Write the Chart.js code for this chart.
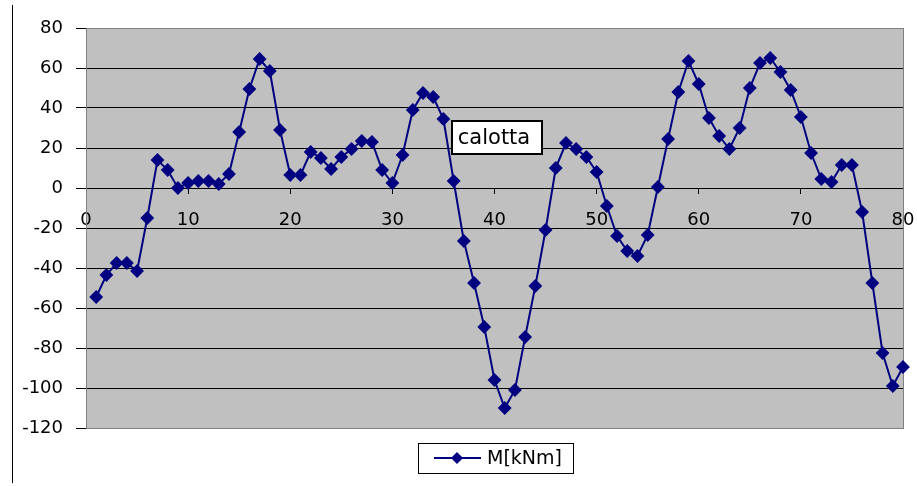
<!DOCTYPE html>
<html>
<head>
<meta charset="utf-8">
<script src="https://cdn.jsdelivr.net/npm/chart.js@4.4.0/dist/chart.umd.min.js"></script>
<style>
  html, body { margin: 0; padding: 0; background: #ffffff; }
  #wrap { position: relative; width: 917px; height: 486px; }
</style>
</head>
<body>
<div id="wrap"><canvas id="c" width="917" height="486"></canvas></div>
<script>
// ---- data ----
const seriesName = "M[kNm]";
const annotationText = "calotta";
const xValues = [1,2,3,4,5,6,7,8,9,10,11,12,13,14,15,16,17,18,19,20,
                 21,22,23,24,25,26,27,28,29,30,31,32,33,34,35,36,37,38,39,40,
                 41,42,43,44,45,46,47,48,49,50,51,52,53,54,55,56,57,58,59,60,
                 61,62,63,64,65,66,67,68,69,70,71,72,73,74,75,76,77,78,79,80];
const mValues = [-54.5,-43.5,-37.5,-37.5,-41.5,-15,14,9,0,2.5,
                 3.5,3.5,2,7,28,49.5,64.5,58.5,29,6.5,
                 6.5,18,15,9.5,15.5,19.5,23.5,23,9,2.5,
                 16.5,39,47.5,45.5,34.5,3.5,-26.5,-47.5,-69.5,-96,
                 -110,-101,-74.5,-49,-21,10,22.5,19.5,15.5,8,
                 -9,-24,-31.5,-34,-23.5,0.5,24.5,48,63.5,52,
                 35,26,19.5,30,50,62.5,65,58,49,35.5,
                 17.5,4.5,3,11.5,11.5,-12,-47.5,-82.5,-99,-89.5];
const xTicks = [0,10,20,30,40,50,60,70,80];
const yTicks = [80,60,40,20,0,-20,-40,-60,-80,-100,-120];

const NAVY = '#000080';
const FONT = '"DejaVu Sans", sans-serif';

const points = xValues.map((x, i) => ({ x: x, y: mValues[i] }));

const decorPlugin = {
  id: 'decor',
  beforeDraw(chart) {
    const { ctx, chartArea: a } = chart;
    ctx.save();
    ctx.fillStyle = '#ffffff';
    ctx.fillRect(0, 0, chart.width, chart.height);
    ctx.fillStyle = '#C0C0C0';
    ctx.fillRect(a.left, a.top, a.right - a.left, a.bottom - a.top);
    // left black vertical line
    ctx.strokeStyle = '#000';
    ctx.lineWidth = 1;
    ctx.beginPath();
    ctx.moveTo(12.5, 5);
    ctx.lineTo(12.5, 483);
    ctx.stroke();
    ctx.restore();
  },
  beforeDatasetsDraw(chart) {
    const { ctx, chartArea: a } = chart;
    ctx.save();
    ctx.strokeStyle = '#808080';
    ctx.lineWidth = 1;
    ctx.strokeRect(Math.round(a.left) + 0.5, Math.round(a.top) + 0.5,
                   Math.round(a.right - a.left), Math.round(a.bottom - a.top));
    ctx.restore();
  },
  afterDraw(chart) {
    const { ctx } = chart;
    ctx.save();
    // annotation box
    ctx.fillStyle = '#fff';
    ctx.fillRect(452, 121, 90, 33);
    ctx.strokeStyle = '#000';
    ctx.lineWidth = 2;
    ctx.strokeRect(452, 121, 90, 33);
    ctx.fillStyle = '#000';
    ctx.font = '21px ' + FONT;
    ctx.textBaseline = 'middle';
    ctx.textAlign = 'center';
    ctx.fillText(annotationText, 494, 139);
    // legend
    ctx.fillStyle = '#fff';
    ctx.fillRect(418, 443, 155, 30);
    ctx.lineWidth = 1;
    ctx.strokeStyle = '#000';
    ctx.strokeRect(418.5, 443.5, 155, 30);
    ctx.strokeStyle = NAVY;
    ctx.lineWidth = 2;
    ctx.beginPath();
    ctx.moveTo(434, 458);
    ctx.lineTo(481, 458);
    ctx.stroke();
    ctx.fillStyle = NAVY;
    ctx.beginPath();
    ctx.moveTo(457, 452);
    ctx.lineTo(463, 458);
    ctx.lineTo(457, 464);
    ctx.lineTo(451, 458);
    ctx.closePath();
    ctx.fill();
    ctx.fillStyle = '#000';
    ctx.font = '19px ' + FONT;
    ctx.textAlign = 'left';
    ctx.textBaseline = 'middle';
    ctx.fillText(seriesName, 487, 459);
    ctx.restore();
  }
};

new Chart(document.getElementById('c'), {
  type: 'line',
  data: {
    datasets: [{
      label: seriesName,
      data: points,
      borderColor: NAVY,
      backgroundColor: NAVY,
      borderWidth: 2,
      pointStyle: 'rectRot',
      pointRadius: 5.5,
      pointHoverRadius: 5.5,
      pointBackgroundColor: NAVY,
      pointBorderColor: NAVY,
      tension: 0,
      clip: false
    }]
  },
  options: {
    responsive: false,
    animation: false,
    events: [],
    layout: { padding: { left: 0, right: 14, top: 28, bottom: 58 } },
    plugins: { legend: { display: false }, tooltip: { enabled: false } },
    scales: {
      x: {
        type: 'linear',
        position: { y: 0 },
        min: 0, max: 80,
        afterBuildTicks(scale) { scale.ticks = xTicks.map(v => ({ value: v })); },
        afterFit(scale) { scale.paddingLeft = 0; scale.paddingRight = 0; },
        grid: { drawOnChartArea: false, drawTicks: true, tickLength: 5, color: '#000' },
        border: { display: true, color: '#000', width: 1 },
        ticks: { color: '#000', font: { family: FONT, size: 18 }, padding: 17, maxRotation: 0, autoSkip: false }
      },
      y: {
        type: 'linear',
        min: -120, max: 80,
        afterBuildTicks(scale) { scale.ticks = yTicks.map(v => ({ value: v })); },
        afterFit(scale) { scale.width = 86; },
        grid: {
          color: (c) => (c.tick && (c.tick.value === 80 || c.tick.value === -120)) ? '#808080' : '#000',
          tickColor: '#000',
          tickLength: 10,
          lineWidth: 1
        },
        border: { display: true, color: '#808080' },
        ticks: { color: '#000', font: { family: FONT, size: 18 }, padding: 13 }
      }
    }
  },
  plugins: [decorPlugin]
});
</script>
</body>
</html>
